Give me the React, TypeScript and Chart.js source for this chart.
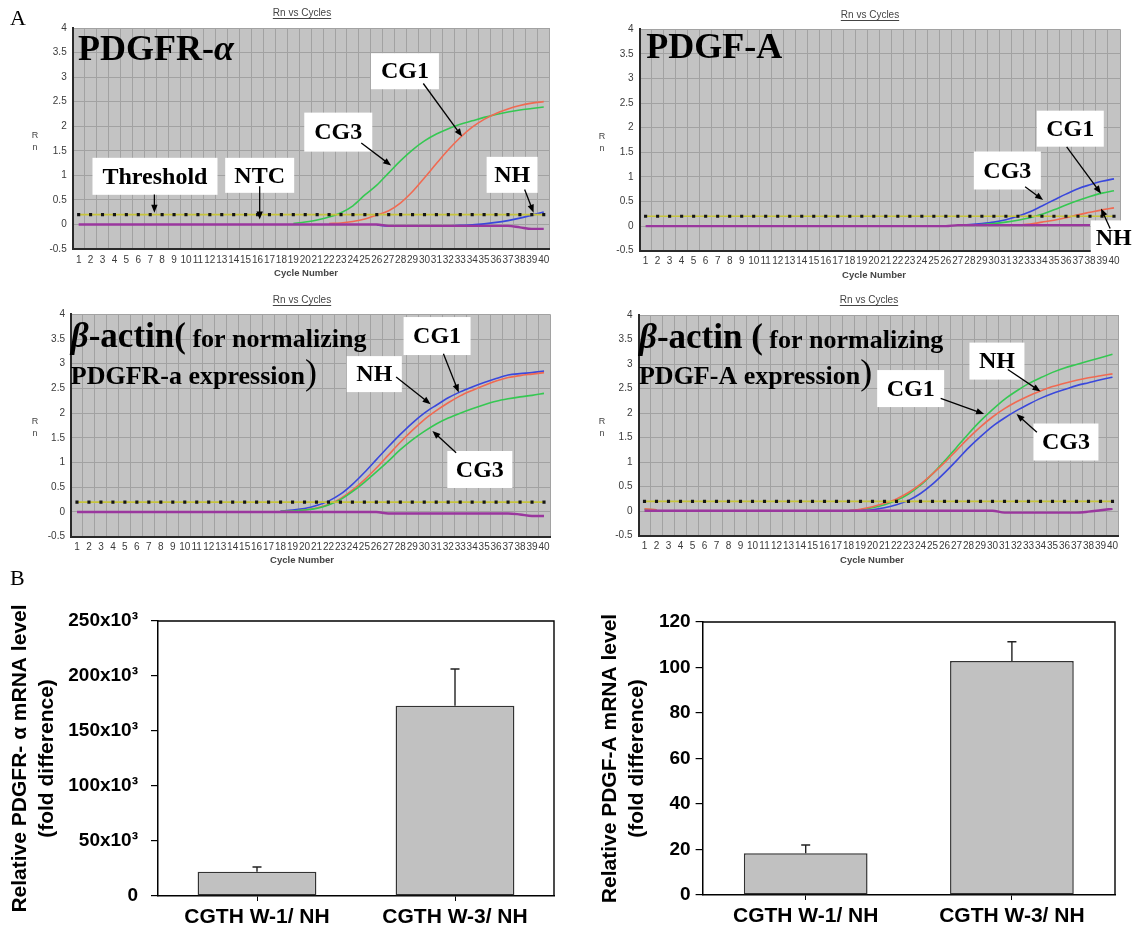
import React, { useEffect, useRef } from 'react';
import { Chart, registerables } from 'chart.js';

Chart.register(...registerables);

const SANS = '"Liberation Sans", Arial, Helvetica, sans-serif';
const SERIF = '"Liberation Serif", "Times New Roman", serif';

// ---------------- data ----------------
const CYCLES = ['1', '2', '3', '4', '5', '6', '7', '8', '9', '10', '11', '12', '13', '14', '15', '16', '17', '18', '19', '20',
  '21', '22', '23', '24', '25', '26', '27', '28', '29', '30', '31', '32', '33', '34', '35', '36', '37', '38', '39', '40'];

const THRESHOLD = [0.2, 0.2, 0.2, 0.2, 0.2, 0.2, 0.2, 0.2, 0.2, 0.2, 0.2, 0.2, 0.2, 0.2, 0.2, 0.2, 0.2, 0.2, 0.2, 0.2,
  0.2, 0.2, 0.2, 0.2, 0.2, 0.2, 0.2, 0.2, 0.2, 0.2, 0.2, 0.2, 0.2, 0.2, 0.2, 0.2, 0.2, 0.2, 0.2, 0.2];

const _ = null;

// Panel 1: PDGFR-alpha
const P1_CG1 = [_, _, _, _, _, _, _, _, _, _, _, _, _, _, _, _, _, _, _, _, _,
  0.02, 0.03, 0.06, 0.11, 0.19, 0.28, 0.44, 0.67, 0.95, 1.24, 1.52, 1.77, 1.98, 2.14, 2.26, 2.35, 2.42, 2.47, 2.5];
const P1_CG3 = [_, _, _, _, _, _, _, _, _, _, _, _, _, _, _, _, _, _,
  0.02, 0.05, 0.09, 0.15, 0.24, 0.38, 0.6, 0.8, 1.05, 1.3, 1.52, 1.7, 1.84, 1.95, 2.04, 2.11, 2.18, 2.24, 2.29, 2.33, 2.36, 2.39];
const P1_NH = [_, _, _, _, _, _, _, _, _, _, _, _, _, _, _, _, _, _, _, _, _, _, _, _, _,
  -0.01, -0.03, -0.03, -0.03, -0.03, -0.03, -0.03, -0.02, -0.01, 0.01, 0.04, 0.08, 0.13, 0.19, 0.25];
const P1_NTC = [0, 0, 0, 0, 0, 0, 0, 0, 0, 0, 0, 0, 0, 0, 0, 0, 0, 0, 0, 0, 0, 0, 0, 0, 0, 0,
  -0.03, -0.03, -0.03, -0.03, -0.03, -0.03, -0.03, -0.03, -0.03, -0.03, -0.03, -0.06, -0.09, -0.09];

// Panel 2: PDGF-A
const P2_CG3 = [_, _, _, _, _, _, _, _, _, _, _, _, _, _, _, _, _, _, _, _, _, _, _, _, _, _,
  0.02, 0.03, 0.05, 0.08, 0.13, 0.2, 0.29, 0.41, 0.53, 0.65, 0.76, 0.84, 0.91, 0.96];
const P2_CG1 = [_, _, _, _, _, _, _, _, _, _, _, _, _, _, _, _, _, _, _, _, _, _, _, _, _, _, _,
  0.02, 0.03, 0.05, 0.08, 0.12, 0.17, 0.24, 0.33, 0.43, 0.52, 0.6, 0.67, 0.72];
const P2_NH = [_, _, _, _, _, _, _, _, _, _, _, _, _, _, _, _, _, _, _, _, _, _, _, _, _, _, _, _, _, _, _,
  0.02, 0.04, 0.08, 0.12, 0.17, 0.23, 0.28, 0.33, 0.37];
const P2_NTC = [0, 0, 0, 0, 0, 0, 0, 0, 0, 0, 0, 0, 0, 0, 0, 0, 0, 0, 0, 0, 0, 0, 0, 0, 0, 0,
  0.02, 0.02, 0.02, 0.02, 0.02, 0.02, 0.02, 0.02, 0.02, 0.02, 0.02, 0.02, _, _];

// Panel 3: beta-actin (PDGFR-a normalization)
const P3_NH = [_, _, _, _, _, _, _, _, _, _, _, _, _, _, _, _, _,
  0.02, 0.04, 0.07, 0.13, 0.22, 0.36, 0.56, 0.8, 1.06, 1.32, 1.57, 1.8, 2.0, 2.16, 2.31, 2.43, 2.53, 2.62, 2.7, 2.77, 2.8, 2.82, 2.85];
const P3_CG1 = [_, _, _, _, _, _, _, _, _, _, _, _, _, _, _, _, _,
  0.01, 0.02, 0.04, 0.08, 0.15, 0.27, 0.44, 0.65, 0.89, 1.15, 1.41, 1.65, 1.87, 2.05, 2.21, 2.35, 2.46, 2.56, 2.65, 2.72, 2.76, 2.79, 2.82];
const P3_CG3 = [_, _, _, _, _, _, _, _, _, _, _, _, _, _, _, _, _,
  0.01, 0.02, 0.04, 0.07, 0.14, 0.25, 0.41, 0.6, 0.81, 1.03, 1.26, 1.46, 1.63, 1.78, 1.9, 2.0, 2.09, 2.17, 2.24, 2.29, 2.33, 2.36, 2.4];
const P3_NTC = [0, 0, 0, 0, 0, 0, 0, 0, 0, 0, 0, 0, 0, 0, 0, 0, 0, 0, 0, 0, 0, 0, 0, 0, 0, 0,
  -0.03, -0.03, -0.03, -0.03, -0.03, -0.03, -0.03, -0.03, -0.03, -0.03, -0.03, -0.05, -0.08, -0.08];

// Panel 4: beta-actin (PDGF-A normalization)
const P4_CG1 = [0.04, 0.03, _, _, _, _, _, _, _, _, _, _, _, _, _, _, _,
  0.01, 0.03, 0.07, 0.13, 0.22, 0.35, 0.53, 0.76, 1.02, 1.3, 1.58, 1.84, 2.07, 2.28, 2.45, 2.6, 2.72, 2.83, 2.92, 2.99, 3.06, 3.13, 3.2];
const P4_NH = [0.05, 0.03, _, _, _, _, _, _, _, _, _, _, _, _, _, _, _,
  0.01, 0.04, 0.09, 0.16, 0.25, 0.38, 0.55, 0.76, 0.99, 1.24, 1.49, 1.72, 1.92, 2.09, 2.23, 2.35, 2.45, 2.54, 2.61, 2.67, 2.72, 2.76, 2.8];
const P4_CG3 = [_, _, _, _, _, _, _, _, _, _, _, _, _, _, _, _, _,
  0.0, 0.01, 0.03, 0.07, 0.13, 0.22, 0.36, 0.55, 0.78, 1.03, 1.29, 1.52, 1.73, 1.9, 2.05, 2.18, 2.3, 2.4, 2.48, 2.56, 2.62, 2.68, 2.73];
const P4_NTC = [0.01, 0.01, 0.01, 0.01, 0.01, 0.01, 0.01, 0.01, 0.01, 0.01, 0.01, 0.01, 0.01, 0.01, 0.01, 0.01, 0.01, 0.01, 0.01, 0.01,
  0.01, 0.01, 0.01, 0.01, 0.01, 0.01, 0.01, 0.01, 0.01, 0.01, -0.03, -0.03, -0.03, -0.03, -0.03, -0.03, -0.03, -0.01, 0.02, 0.05];

// Bar charts
const BAR_CATEGORIES = ['CGTH W-1/ NH', 'CGTH W-3/ NH'];
const PDGFRA_FOLD = [22100, 173000];
const PDGFRA_ERR = [4300, 33400];
const PDGFRA_TICKS = [0, 50000, 100000, 150000, 200000, 250000];
const PDGFA_FOLD = [18.3, 102.9];
const PDGFA_ERR = [3.7, 8.4];
const PDGFA_TICKS = [0, 20, 40, 60, 80, 100, 120];

// ---------------- styles ----------------
const GREEN = '#35c852';
const RED = '#f06a52';
const BLUE = '#3a48dc';
const PURPLE = '#9a379e';
const PLOT_BG = '#c3c3c3';
const GRID = '#a2a2a2';
const BOX_FONT = `bold 24px ${SERIF}`;

type Seg = { t: string; f: string };
type Heading = { c: number; v: number; segs: Seg[] };
type Box = { text: string; c: number; v: number; w: number; h: number };
type Arrow = { c1: number; v1: number; c2: number; v2: number };
type Series = { data: (number | null)[]; color: string; width?: number };
type Panel = {
  left: number; top: number; w: number; h: number;
  yw: number; padTop: number; padRight: number; xh: number;
  title: [number, number]; xTitle: [number, number]; rn: [number, number];
  series: Series[]; headings: Heading[]; boxes: Box[]; arrows: Arrow[];
};

function drawArrow(ctx: CanvasRenderingContext2D, x1: number, y1: number, x2: number, y2: number) {
  const ang = Math.atan2(y2 - y1, x2 - x1);
  const L = 8, W = 3.2;
  const cos = Math.cos(ang), sin = Math.sin(ang);
  ctx.strokeStyle = '#000';
  ctx.fillStyle = '#000';
  ctx.lineWidth = 1.3;
  ctx.beginPath();
  ctx.moveTo(x1, y1);
  ctx.lineTo(x2 - cos * L * 0.7, y2 - sin * L * 0.7);
  ctx.stroke();
  ctx.beginPath();
  ctx.moveTo(x2, y2);
  ctx.lineTo(x2 - L * cos + W * sin, y2 - L * sin - W * cos);
  ctx.lineTo(x2 - L * cos - W * sin, y2 - L * sin + W * cos);
  ctx.closePath();
  ctx.fill();
}

function linePlugin(p: Panel) {
  return {
    id: 'decor',
    beforeDraw(chart: any) {
      const { ctx, chartArea: a } = chart;
      ctx.save();
      ctx.fillStyle = PLOT_BG;
      ctx.fillRect(a.left, a.top, a.right - a.left, a.bottom - a.top);
      ctx.restore();
    },
    afterDatasetsDraw(chart: any) {
      const { ctx } = chart;
      const xs = chart.scales.x, ys = chart.scales.y;
      const X = (c: number) => xs.getPixelForValue(c - 1);
      const Y = (v: number) => ys.getPixelForValue(v);
      ctx.save();
      ctx.fillStyle = '#000';
      ctx.textAlign = 'left';
      ctx.textBaseline = 'alphabetic';
      for (const h of p.headings) {
        let x = X(h.c);
        const y = Y(h.v);
        for (const s of h.segs) {
          ctx.font = s.f;
          ctx.fillText(s.t, x, y);
          x += ctx.measureText(s.t).width;
        }
      }
      for (const b of p.boxes) {
        const cx = X(b.c), cy = Y(b.v);
        ctx.fillStyle = '#fff';
        ctx.fillRect(cx - b.w / 2, cy - b.h / 2, b.w, b.h);
        ctx.fillStyle = '#000';
        ctx.font = BOX_FONT;
        ctx.textAlign = 'center';
        ctx.textBaseline = 'middle';
        ctx.fillText(b.text, cx, cy + 1);
      }
      for (const ar of p.arrows) drawArrow(ctx, X(ar.c1), Y(ar.v1), X(ar.c2), Y(ar.v2));
      ctx.restore();
    },
    afterDraw(chart: any) {
      const { ctx } = chart;
      ctx.save();
      ctx.fillStyle = '#444';
      ctx.strokeStyle = '#444';
      ctx.textAlign = 'center';
      ctx.textBaseline = 'middle';
      ctx.font = `10px ${SANS}`;
      const t = 'Rn vs Cycles';
      ctx.fillText(t, p.title[0], p.title[1]);
      const tw = ctx.measureText(t).width;
      ctx.lineWidth = 1;
      ctx.beginPath();
      ctx.moveTo(p.title[0] - tw / 2, p.title[1] + 5.5);
      ctx.lineTo(p.title[0] + tw / 2, p.title[1] + 5.5);
      ctx.stroke();
      ctx.font = `bold 9.5px ${SANS}`;
      ctx.fillText('Cycle Number', p.xTitle[0], p.xTitle[1]);
      ctx.font = `9px ${SANS}`;
      ctx.fillText('R', p.rn[0], p.rn[1]);
      ctx.fillText('n', p.rn[0], p.rn[1] + 12);
      ctx.restore();
    },
  };
}

function lineConfig(p: Panel): any {
  const datasets: any[] = [
    {
      data: THRESHOLD, borderColor: '#c6c43c', borderWidth: 1.6, pointRadius: 2.2, pointStyle: 'rect',
      pointBackgroundColor: '#151515', pointBorderWidth: 0,
    },
    ...p.series.map((s) => ({
      data: s.data, borderColor: s.color, borderWidth: s.width ?? 1.6, pointRadius: 0,
      cubicInterpolationMode: 'monotone', spanGaps: false,
    })),
  ];
  return {
    type: 'line',
    data: { labels: CYCLES, datasets },
    options: {
      responsive: false, animation: false, events: [],
      layout: { padding: { left: 0, top: p.padTop, right: p.padRight, bottom: 0 } },
      plugins: { legend: { display: false }, tooltip: { enabled: false } },
      scales: {
        x: {
          offset: true,
          grid: { color: GRID, offset: true, drawTicks: false, lineWidth: 1 },
          border: { color: '#2a2a2a', width: 2 },
          ticks: { autoSkip: false, maxRotation: 0, minRotation: 0, padding: 5, color: '#3a3a3a', font: { family: SANS, size: 10 } },
          afterFit: (s: any) => { s.height = p.xh; },
        },
        y: {
          min: -0.5, max: 4,
          grid: { color: GRID, drawTicks: false, lineWidth: 1 },
          border: { color: '#2a2a2a', width: 2 },
          ticks: {
            stepSize: 0.25, padding: 6, color: '#3a3a3a', font: { family: SANS, size: 10 },
            callback: (v: number) => (Math.abs(v * 2 - Math.round(v * 2)) < 1e-6 ? String(Math.round(v * 100) / 100) : ''),
          },
          afterFit: (s: any) => { s.width = p.yw; },
        },
      },
    },
    plugins: [linePlugin(p)],
  };
}

const BIG = `bold 36px ${SERIF}`;
const BIG_IT = `italic bold 36px ${SERIF}`;
const B35 = `bold 35px ${SERIF}`;
const B35_IT = `italic bold 35px ${SERIF}`;
const MID = `bold 26px ${SERIF}`;
const PAREN = `36px ${SERIF}`;

const PANELS: Panel[] = [
  {
    left: 0, top: 0, w: 570, h: 285, yw: 72.7, padTop: 28, padRight: 20.3, xh: 36,
    title: [302, 13], xTitle: [306, 273], rn: [35, 136],
    series: [
      { data: P1_NTC, color: PURPLE, width: 2.4 },
      { data: P1_NH, color: BLUE, width: 1.8 },
      { data: P1_CG1, color: RED },
      { data: P1_CG3, color: GREEN },
    ],
    headings: [{ c: 0.95, v: 3.35, segs: [{ t: 'PDGFR-', f: BIG }, { t: 'α', f: BIG_IT }] }],
    boxes: [
      { text: 'CG1', c: 28.36, v: 3.12, w: 68, h: 36 },
      { text: 'CG3', c: 22.77, v: 1.88, w: 68, h: 39 },
      { text: 'Threshold', c: 7.4, v: 0.98, w: 125, h: 37 },
      { text: 'NTC', c: 16.18, v: 1.0, w: 69, h: 35 },
      { text: 'NH', c: 37.35, v: 1.01, w: 51, h: 36 },
    ],
    arrows: [
      { c1: 29.9, v1: 2.87, c2: 33.15, v2: 1.79 },
      { c1: 24.7, v1: 1.66, c2: 27.2, v2: 1.2 },
      { c1: 7.35, v1: 0.61, c2: 7.35, v2: 0.24 },
      { c1: 16.18, v1: 0.78, c2: 16.18, v2: 0.1 },
      { c1: 38.4, v1: 0.71, c2: 39.15, v2: 0.24 },
    ],
  },
  {
    left: 570, top: 0, w: 568, h: 285, yw: 69.6, padTop: 29.3, padRight: 18, xh: 34.3,
    title: [300, 15], xTitle: [304, 275], rn: [32, 137],
    series: [
      { data: P2_NTC, color: PURPLE, width: 2.4 },
      { data: P2_NH, color: RED },
      { data: P2_CG1, color: GREEN },
      { data: P2_CG3, color: BLUE },
    ],
    headings: [{ c: 1.06, v: 3.42, segs: [{ t: 'PDGF-A', f: BIG }] }],
    boxes: [
      { text: 'CG1', c: 36.36, v: 1.98, w: 67, h: 36 },
      { text: 'CG3', c: 31.12, v: 1.13, w: 67, h: 38 },
      { text: 'NH', c: 39.98, v: -0.24, w: 46, h: 35 },
    ],
    arrows: [
      { c1: 36.06, v1: 1.61, c2: 38.92, v2: 0.66 },
      { c1: 32.6, v1: 0.8, c2: 34.1, v2: 0.53 },
      { c1: 39.68, v1: -0.05, c2: 38.92, v2: 0.36 },
    ],
  },
  {
    left: 0, top: 285, w: 570, h: 280, yw: 71, padTop: 29.3, padRight: 20, xh: 28.3,
    title: [302, 15], xTitle: [302, 275], rn: [35, 137],
    series: [
      { data: P3_NTC, color: PURPLE, width: 2.4 },
      { data: P3_CG3, color: GREEN },
      { data: P3_CG1, color: RED },
      { data: P3_NH, color: BLUE },
    ],
    headings: [
      { c: 0.48, v: 3.33, segs: [{ t: 'β', f: B35_IT }, { t: '-actin(', f: B35 }, { t: ' for normalizing', f: MID }] },
      { c: 0.48, v: 2.59, segs: [{ t: 'PDGFR-a expression', f: MID }, { t: ')', f: PAREN }] },
    ],
    boxes: [
      { text: 'NH', c: 25.83, v: 2.79, w: 55, h: 36 },
      { text: 'CG1', c: 31.07, v: 3.56, w: 67, h: 38 },
      { text: 'CG3', c: 34.64, v: 0.86, w: 65, h: 37 },
    ],
    arrows: [
      { c1: 27.65, v1: 2.73, c2: 30.53, v2: 2.18 },
      { c1: 31.6, v1: 3.2, c2: 32.88, v2: 2.42 },
      { c1: 32.66, v1: 1.2, c2: 30.68, v2: 1.64 },
    ],
  },
  {
    left: 570, top: 285, w: 568, h: 280, yw: 68.5, padTop: 30, padRight: 19.5, xh: 29.3,
    title: [299, 15], xTitle: [302, 275], rn: [32, 137],
    series: [
      { data: P4_NTC, color: PURPLE, width: 2.4 },
      { data: P4_CG3, color: BLUE },
      { data: P4_NH, color: RED },
      { data: P4_CG1, color: GREEN },
    ],
    headings: [
      { c: 0.54, v: 3.33, segs: [{ t: 'β', f: B35_IT }, { t: '-actin (', f: B35 }, { t: ' for normalizing', f: MID }] },
      { c: 0.54, v: 2.59, segs: [{ t: 'PDGF-A expression', f: MID }, { t: ')', f: PAREN }] },
    ],
    boxes: [
      { text: 'NH', c: 30.37, v: 3.06, w: 55, h: 37 },
      { text: 'CG1', c: 23.18, v: 2.5, w: 67, h: 37 },
      { text: 'CG3', c: 36.12, v: 1.41, w: 65, h: 37 },
    ],
    arrows: [
      { c1: 31.28, v1: 2.89, c2: 34.0, v2: 2.44 },
      { c1: 25.68, v1: 2.3, c2: 29.3, v2: 1.98 },
      { c1: 33.7, v1: 1.61, c2: 32.0, v2: 1.98 },
    ],
  },
];

type BarPanel = {
  left: number; top: number; w: number; h: number;
  yw: number; padTop: number; padRight: number; xh: number;
  values: number[]; errs: number[]; ticks: number[];
  fmt: (v: number) => string; title: string[]; titlePad: number; tickPad: number;
};

function barPlugin(errs: number[]) {
  return {
    id: 'errbars',
    afterDatasetsDraw(chart: any) {
      const { ctx, chartArea: a } = chart;
      const ys = chart.scales.y;
      const meta = chart.getDatasetMeta(0);
      const vals = chart.data.datasets[0].data as number[];
      ctx.save();
      ctx.strokeStyle = '#222';
      ctx.lineWidth = 1.4;
      meta.data.forEach((bar: any, i: number) => {
        const yb = ys.getPixelForValue(vals[i]);
        const yt = ys.getPixelForValue(vals[i] + errs[i]);
        ctx.beginPath();
        ctx.moveTo(bar.x, yb);
        ctx.lineTo(bar.x, yt);
        ctx.moveTo(bar.x - 4.5, yt);
        ctx.lineTo(bar.x + 4.5, yt);
        ctx.stroke();
      });
      ctx.strokeStyle = '#000';
      ctx.lineWidth = 1.4;
      ctx.beginPath();
      ctx.moveTo(a.left, a.top);
      ctx.lineTo(a.right, a.top);
      ctx.lineTo(a.right, a.bottom);
      ctx.stroke();
      ctx.restore();
    },
  };
}

function barConfig(b: BarPanel): any {
  const tickVals = b.ticks;
  return {
    type: 'bar',
    data: {
      labels: BAR_CATEGORIES,
      datasets: [{
        data: b.values, backgroundColor: '#c1c1c1', borderColor: '#333', borderWidth: 1.5,
        borderSkipped: false, barPercentage: 0.6, categoryPercentage: 1.0,
      }],
    },
    options: {
      responsive: false, animation: false, events: [],
      layout: { padding: { left: 0, top: b.padTop, right: b.padRight, bottom: 0 } },
      plugins: { legend: { display: false }, tooltip: { enabled: false } },
      scales: {
        x: {
          grid: { offset: false, drawOnChartArea: false, drawTicks: true, tickLength: 5, color: '#000', lineWidth: 1 },
          border: { color: '#000', width: 1.5 },
          ticks: { color: '#000', font: { family: SANS, size: 21, weight: 'bold' }, padding: 4, maxRotation: 0, autoSkip: false },
          afterFit: (s: any) => { s.height = b.xh; },
        },
        y: {
          min: tickVals[0], max: tickVals[tickVals.length - 1],
          afterBuildTicks: (s: any) => { s.ticks = tickVals.map((v) => ({ value: v })); },
          ticks: { callback: (v: number) => b.fmt(v), color: '#000', font: { family: SANS, size: 19, weight: 'bold' }, padding: b.tickPad },
          grid: { drawOnChartArea: false, drawTicks: true, tickLength: 7, color: '#000', lineWidth: 1.2 },
          border: { color: '#000', width: 1.5 },
          title: {
            display: true, text: b.title, color: '#000',
            font: { family: SANS, size: 21, weight: 'bold', lineHeight: 1.29 },
            padding: { top: b.titlePad, bottom: 0 },
          },
          afterFit: (s: any) => { s.width = b.yw; },
        },
      },
    },
    plugins: [barPlugin(b.errs)],
  };
}

const BARS: BarPanel[] = [
  {
    left: 0, top: 560, w: 568, h: 370, yw: 158, padTop: 61, padRight: 14, xh: 34,
    values: PDGFRA_FOLD, errs: PDGFRA_ERR, ticks: PDGFRA_TICKS,
    fmt: (v) => (v === 0 ? '0' : `${v / 1000}x10³`),
    title: ['Relative PDGFR- α mRNA level', '(fold difference)'], titlePad: 6.5, tickPad: 13,
  },
  {
    left: 570, top: 560, w: 568, h: 370, yw: 132.6, padTop: 62, padRight: 23, xh: 35,
    values: PDGFA_FOLD, errs: PDGFA_ERR, ticks: PDGFA_TICKS,
    fmt: (v) => String(v),
    title: ['Relative PDGF-A mRNA level', '(fold difference)'], titlePad: 26.5, tickPad: 5,
  },
];

function ChartCanvas({ left, top, w, h, make }: { left: number; top: number; w: number; h: number; make: () => any }) {
  const ref = useRef<HTMLCanvasElement>(null);
  useEffect(() => {
    const chart = new Chart(ref.current as HTMLCanvasElement, make());
    return () => chart.destroy();
  }, []);
  return (
    <canvas ref={ref} width={w} height={h}
      style={{ position: 'absolute', left, top, width: w, height: h, display: 'block' }} />
  );
}

export default function App() {
  return (
    <div style={{ position: 'absolute', left: 0, top: 0, width: 1138, height: 930, background: '#fff', overflow: 'hidden' }}>
      {PANELS.map((p, i) => (
        <ChartCanvas key={'p' + i} left={p.left} top={p.top} w={p.w} h={p.h} make={() => lineConfig(p)} />
      ))}
      {BARS.map((b, i) => (
        <ChartCanvas key={'b' + i} left={b.left} top={b.top} w={b.w} h={b.h} make={() => barConfig(b)} />
      ))}
      <div style={{ position: 'absolute', left: 10, top: 6.6, font: `22px/22px ${SERIF}`, color: '#000' }}>A</div>
      <div style={{ position: 'absolute', left: 10, top: 566.6, font: `22px/22px ${SERIF}`, color: '#000' }}>B</div>
    </div>
  );
}
